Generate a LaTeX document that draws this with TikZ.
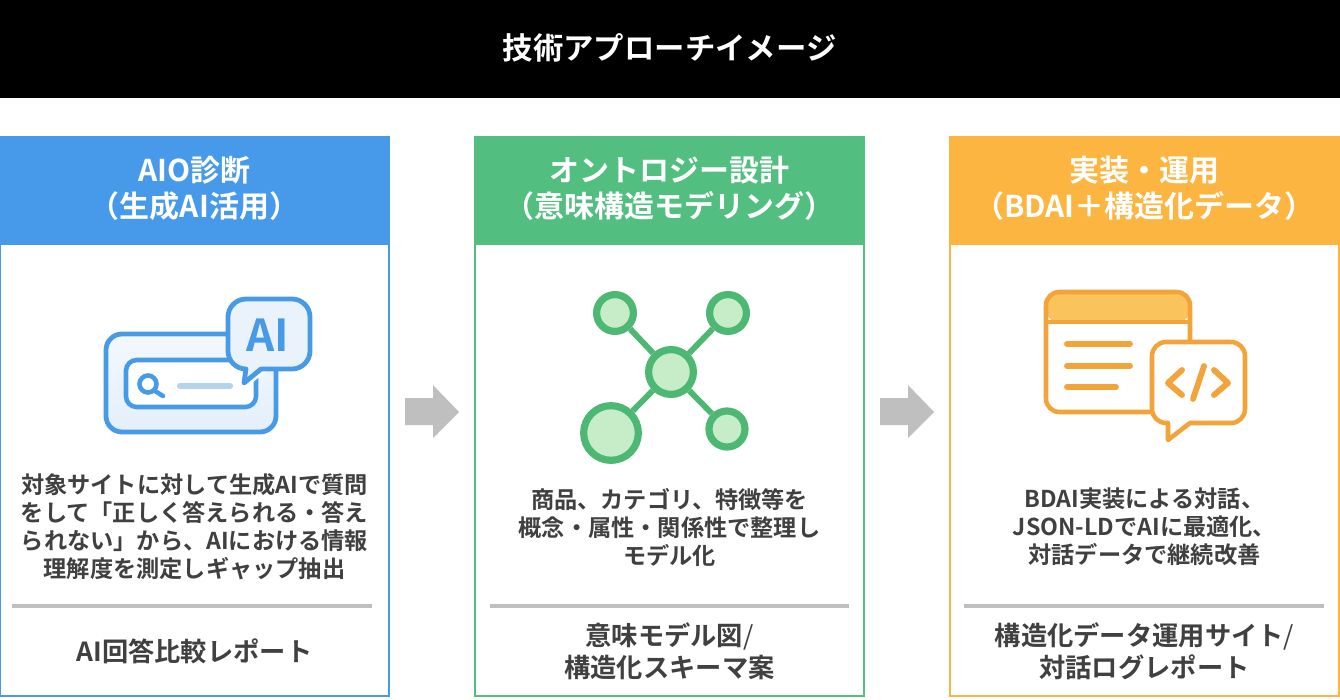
\documentclass[tikz,border=0pt]{standalone}
\usepackage{fontspec}
\setmainfont{Noto Sans CJK JP}[BoldFont={* Bold}]
\definecolor{cblue}{HTML}{4799EA}
\definecolor{cgreen}{HTML}{52BE80}
\definecolor{corange}{HTML}{FBB540}
\definecolor{ink}{HTML}{404040}
\definecolor{rulegray}{HTML}{BFBFBF}
\definecolor{iblue}{HTML}{479BE6}
\definecolor{iblueF}{HTML}{EAF3FC}
\definecolor{iblueT}{HTML}{F3F8FE}
\definecolor{iblueB}{HTML}{E3EFFB}
\definecolor{ibar}{HTML}{B5D4EA}
\definecolor{igreen}{HTML}{4DB873}
\definecolor{igreenF}{HTML}{C6EDC8}
\definecolor{iorange}{HTML}{F2A33A}
\definecolor{iorangeF}{HTML}{FBC35C}
\tikzset{
  x=0.75pt,y=-0.75pt,
  card/.style={draw=#1,line width=1.6pt,fill=white},
  cardhead/.style={fill=#1},
  headtext/.style={text=white,font=\fontsize{22.5}{27}\selectfont\bfseries,align=center,inner sep=0pt},
  bodytext/.style={text=ink,font=\fontsize{17.4}{21}\selectfont\bfseries,align=center,inner sep=0pt},
  outtext/.style={text=ink,font=\fontsize{19.7}{24}\selectfont\bfseries,align=center,inner sep=0pt},
  divider/.style={draw=rulegray,line width=3pt},
  flowarrow/.style={fill=rulegray},
  gnode/.style={draw=igreen,fill=igreenF,line width=5.4pt},
  gedge/.style={draw=igreen,line width=4.4pt},
  oline/.style={draw=iorange,line width=4.4pt,line cap=round,line join=round},
}
\begin{document}
\begin{tikzpicture}
\useasboundingbox (0,0) rectangle (1340,700);
\fill[white] (0,0) rectangle (1340,700);
\fill[black] (0,0) rectangle (1340,98);
\node[text=white,font=\fontsize{22.8}{27}\selectfont\bfseries,inner sep=0pt] (title) at (669.5,47.5) {技術アプローチイメージ};

% cards
\draw[card=cblue] (0,137) rectangle (389,696);
\fill[cardhead=cblue] (0,136) rectangle (390,245);
\draw[card=cgreen] (475,137) rectangle (864,696);
\fill[cardhead=cgreen] (474,136) rectangle (865,245);
\draw[card=corange] (950,137) rectangle (1339,696);
\fill[cardhead=corange] (949,136) rectangle (1340,245);

\node[headtext] (h1) at (194.5,188.5) {AIO診断\\（生成AI活用）};
\node[headtext] (h2) at (669.5,188.5) {オントロジー設計\\（意味構造モデリング）};
\node[headtext] (h3) at (1144.5,188.5) {実装・運用\\（BDAI＋構造化データ）};

% blue icon
\draw[iblue,top color=iblueT,bottom color=iblueB,line width=3.6pt,rounded corners=12pt] (106,334) rectangle (276,432);
\draw[iblue,fill=white,line width=3.4pt,rounded corners=8pt] (126,360) rectangle (256,407);
\draw[iblue,line width=3.4pt] (148,384) circle (8.5);
\draw[iblue,line width=3.4pt,line cap=round] (155,391) -- (163,396);
\draw[ibar,line width=4.6pt,line cap=round] (180,386) -- (230,386);
\draw[white,fill=iblueF,line width=7pt,line join=round]
  (246,369) -- (243,384) -- (262,369) -- cycle;
\draw[iblue,fill=iblueF,line width=3.6pt,line join=round]
  (246,369) -- (244,383) -- (261,369)
  -- (292,369) arc[start angle=90,end angle=0,radius=18] -- (310,317)
  arc[start angle=0,end angle=-90,radius=18] -- (246,299)
  arc[start angle=-90,end angle=-180,radius=18] -- (228,351)
  arc[start angle=180,end angle=90,radius=18] -- cycle;
\node[text=iblue,font=\fontsize{33}{33}\selectfont\bfseries,inner sep=0pt] (ailabel) at (268,335) {AI};

% green icon
\node[gnode,circle,minimum size=33.6pt,inner sep=0pt] (gc) at (671,372) {};
\node[gnode,circle,minimum size=27.6pt,inner sep=0pt] (gtl) at (615,313) {};
\node[gnode,circle,minimum size=27.6pt,inner sep=0pt] (gtr) at (728,313) {};
\node[gnode,circle,minimum size=41pt,inner sep=0pt] (gbl) at (611,433) {};
\node[gnode,circle,minimum size=27pt,inner sep=0pt] (gbr) at (727,429) {};
\draw[gedge] (gc) -- (gtl);
\draw[gedge] (gc) -- (gtr);
\draw[gedge] (gc) -- (gbl);
\draw[gedge] (gc) -- (gbr);

% orange icon
\fill[iorangeF,rounded corners=9pt] (1046,322) -- (1046,292) -- (1190,292) -- (1190,322) -- cycle;
\draw[iorange,line width=3.4pt,rounded corners=10pt] (1046,292) rectangle (1190,412);
\draw[iorange,line width=3.4pt] (1046,322) -- (1190,322);
\draw[oline] (1067,344) -- (1130,344);
\draw[oline] (1067,366) -- (1130,366);
\draw[oline] (1067,387) -- (1116,387);
\draw[iorange,fill=white,line width=3.4pt,line join=round]
  (1168,423) -- (1168,440) -- (1190,423) -- (1231,423)
  arc[start angle=90,end angle=0,radius=14] -- (1245,356)
  arc[start angle=0,end angle=-90,radius=14] -- (1166,342)
  arc[start angle=-90,end angle=-180,radius=14] -- (1152,409)
  arc[start angle=180,end angle=90,radius=14] -- cycle;
\draw[oline] (1182,370) -- (1168,383) -- (1182,395);
\draw[oline] (1204,366) -- (1193,399);
\draw[oline] (1214,370) -- (1228,383) -- (1214,395);

% body
\node[bodytext] (b1) at (194.5,527) {対象サイトに対して生成AIで質問\\をして「正しく答えられる・答え\\られない」から、AIにおける情報\\理解度を測定しギャップ抽出};
\node[bodytext] (b2) at (669.5,527) {商品、カテゴリ、特徴等を\\概念・属性・関係性で整理し\\モデル化};
\node[bodytext] (b3) at (1144.5,527) {BDAI実装による対話、\\JSON-LDでAIに最適化、\\対話データで継続改善};

% dividers
\coordinate (d1a) at (12,606); \coordinate (d1b) at (372,606);
\coordinate (d2a) at (490,606); \coordinate (d2b) at (849,606);
\coordinate (d3a) at (964,606); \coordinate (d3b) at (1324,606);
\draw[divider] (d1a) -- (d1b);
\draw[divider] (d2a) -- (d2b);
\draw[divider] (d3a) -- (d3b);

% outputs
\node[outtext] (o1) at (194.5,651) {AI回答比較レポート};
\node[outtext] (o2) at (669.5,651) {意味モデル図{\mdseries/}\\構造化スキーマ案};
\node[outtext] (o3) at (1144.5,651) {構造化データ運用サイト{\mdseries/}\\対話ログレポート};

% arrows
\fill[flowarrow] (405,398) -- (433,398) -- (433,385) -- (459,412) -- (433,438) -- (433,425) -- (405,425) -- cycle;
\fill[flowarrow] (880,398) -- (908,398) -- (908,385) -- (934,412) -- (908,438) -- (908,425) -- (880,425) -- cycle;
\end{tikzpicture}
\end{document}
